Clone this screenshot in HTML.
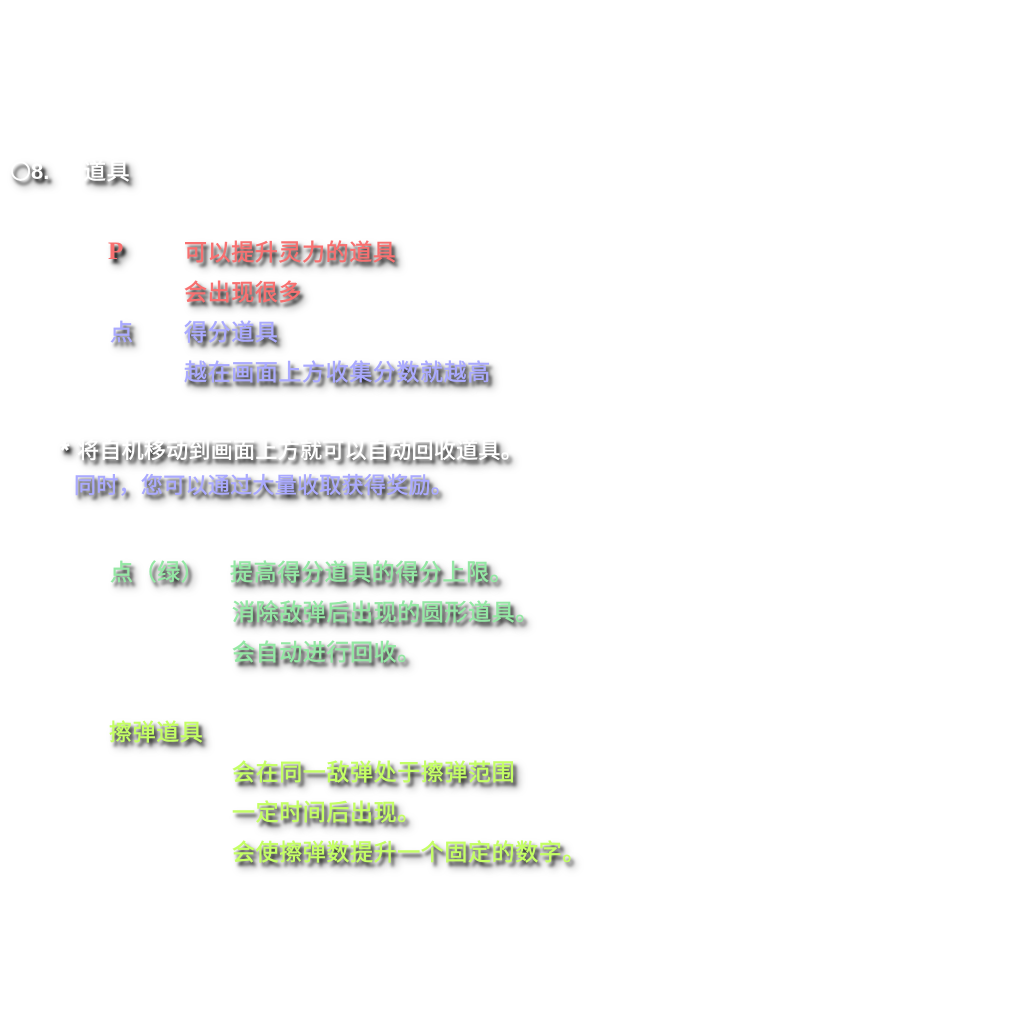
<!DOCTYPE html>
<html>
<head>
<meta charset="utf-8">
<style>
html,body{margin:0;padding:0;background:#fff;}
body{width:1024px;height:1024px;position:relative;overflow:hidden;}
.t{position:absolute;white-space:nowrap;height:40px;line-height:40px;
font-family:"Liberation Sans","Noto Sans CJK SC","WenQuanYi Zen Hei",sans-serif;
font-size:23px;font-weight:normal;letter-spacing:0.6px;
-webkit-text-stroke:0.5px currentColor;
text-shadow:3px 4px 3px rgba(0,0,0,0.9),5px 6px 8px rgba(0,0,0,0.6);}
.w{color:#ffffff;}
.r{color:#f87070;}
.b{color:#aaaaff;}
.g{color:#94e8a4;}
.y{color:#c4ff64;}
.tight{font-size:22px;letter-spacing:0.3px;}
.serif{font-family:"Liberation Serif","Noto Serif CJK SC",serif;font-size:25px;font-weight:bold;-webkit-text-stroke:0;}
.ast{display:inline-block;width:17px;font-size:24px;letter-spacing:0;font-weight:bold;}
</style>
</head>
<body>
<div class="t w" style="left:10px;top:151px;letter-spacing:0;"><span style="font-size:21px;-webkit-text-stroke:0.3px #fff;">〇</span><span style="font-size:22px;font-weight:bold;-webkit-text-stroke:0;">8.</span></div>
<div class="t w" style="left:83px;top:151px;">道具</div>

<div class="t r serif" style="left:108px;top:232px;">P</div>
<div class="t r" style="left:184px;top:232px;">可以提升灵力的道具</div>
<div class="t r" style="left:184px;top:272px;">会出现很多</div>
<div class="t b" style="left:110px;top:312px;">点</div>
<div class="t b" style="left:184px;top:312px;">得分道具</div>
<div class="t b" style="left:184px;top:352px;">越在画面上方收集分数就越高</div>

<div class="t w tight" style="left:60px;top:431px;"><span class="ast">*</span>将自机移动到画面上方就可以自动回收道具。</div>
<div class="t b tight" style="left:74px;top:466px;">同时，您可以通过大量收取获得奖励。</div>

<div class="t g" style="left:110px;top:552px;">点（绿）</div>
<div class="t g" style="left:230px;top:552px;">提高得分道具的得分上限。</div>
<div class="t g" style="left:232px;top:592px;">消除敌弹后出现的圆形道具。</div>
<div class="t g" style="left:232px;top:632px;">会自动进行回收。</div>

<div class="t y" style="left:109px;top:712px;">擦弹道具</div>
<div class="t y" style="left:232px;top:752px;">会在同一敌弹处于擦弹范围</div>
<div class="t y" style="left:232px;top:792px;">一定时间后出现。</div>
<div class="t y" style="left:232px;top:832px;">会使擦弹数提升一个固定的数字。</div>
</body>
</html>
